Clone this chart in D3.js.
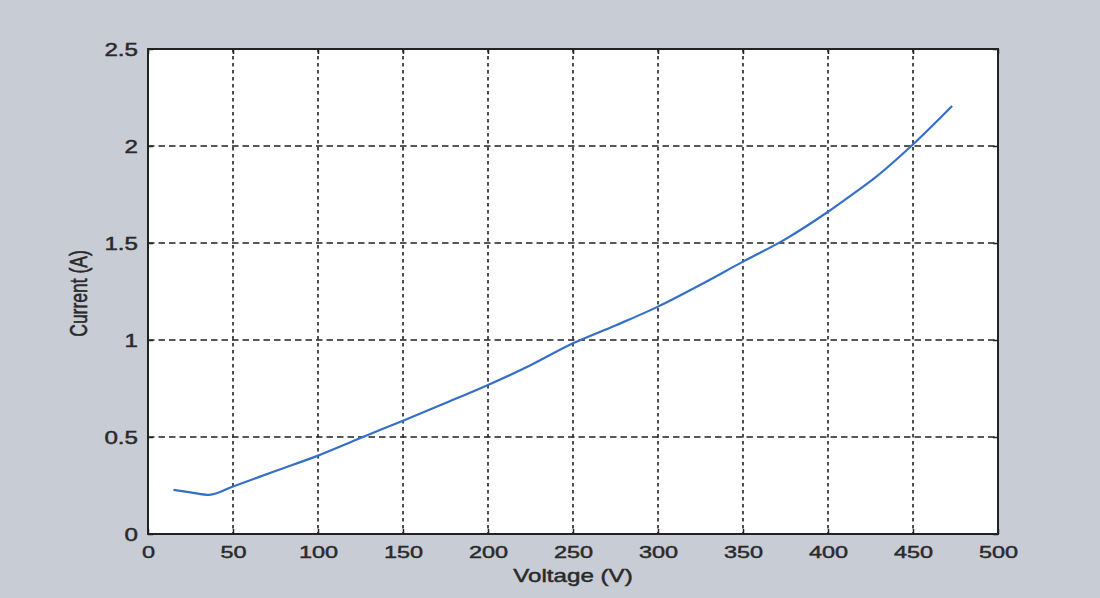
<!DOCTYPE html>
<html>
<head>
<meta charset="utf-8">
<script src="https://cdn.jsdelivr.net/npm/d3@7"></script>
<style>
  html, body { margin: 0; padding: 0; background: #c8ccd5; }
  svg { display: block; }
  text { font-family: "Liberation Sans", Arial, sans-serif; fill: #2a2a2a; stroke: #2a2a2a; stroke-width: 0.45px; }
</style>
</head>
<body>
<svg id="chart" width="1100" height="598"></svg>
<script>
// Measured I-V characteristic
const voltage = [15, 25, 36, 50, 75, 100, 125, 150, 175, 200, 225, 250, 275, 300, 325, 350, 375, 400, 413, 426, 449, 473];
const current = [0.227, 0.215, 0.202, 0.245, 0.325, 0.404, 0.495, 0.584, 0.675, 0.768, 0.870, 0.983, 1.075, 1.172, 1.285, 1.404, 1.520, 1.661, 1.742, 1.825, 2.000, 2.206];

const xTicks = [0, 50, 100, 150, 200, 250, 300, 350, 400, 450, 500];
const yTicks = [0, 0.5, 1, 1.5, 2, 2.5];
const xLabel = "Voltage (V)";
const yLabel = "Current (A)";

const svg = d3.select("#chart");
const W = 1100, H = 598;
const plot = { left: 148, right: 998, top: 49, bottom: 534 };
const stretch = 1.38; // horizontal text stretch of the figure

svg.append("rect").attr("width", W).attr("height", H).attr("fill", "#c8ccd5");

const x = d3.scaleLinear().domain([0, 500]).range([plot.left, plot.right]);
const y = d3.scaleLinear().domain([0, 2.5]).range([plot.bottom, plot.top]);

// plot background
svg.append("rect")
  .attr("x", plot.left).attr("y", plot.top)
  .attr("width", plot.right - plot.left).attr("height", plot.bottom - plot.top)
  .attr("fill", "#ffffff");

// dashed grid
const grid = svg.append("g");
grid.selectAll("line.v").data(xTicks.slice(1, -1)).join("line")
  .attr("class", "v")
  .attr("x1", d => x(d)).attr("x2", d => x(d))
  .attr("y1", plot.top).attr("y2", plot.bottom)
  .attr("stroke", "#222").attr("stroke-width", 1.6)
  .attr("stroke-dasharray", "3.5,3.5");
grid.selectAll("line.h").data(yTicks.slice(1, -1)).join("line")
  .attr("class", "h")
  .attr("x1", plot.left).attr("x2", plot.right)
  .attr("y1", d => y(d)).attr("y2", d => y(d))
  .attr("stroke", "#222").attr("stroke-width", 1.6)
  .attr("stroke-dasharray", "6.5,4");

// axes with inward ticks and labels
const xAxis = d3.axisBottom(x).tickValues(xTicks).tickSize(-5).tickPadding(0).tickFormat(d3.format("d"));
const xAxisTop = d3.axisTop(x).tickValues(xTicks).tickSize(-5).tickFormat("");
const yAxis = d3.axisLeft(y).tickValues(yTicks).tickSize(-5).tickPadding(0).tickFormat(d => String(d));
const yAxisRight = d3.axisRight(y).tickValues(yTicks).tickSize(-5).tickFormat("");

function styleAxis(g) {
  g.select(".domain").remove();
  g.selectAll(".tick line").attr("stroke", "#222").attr("stroke-width", 1.5);
}

const gx = svg.append("g").attr("transform", `translate(0,${plot.bottom})`).call(xAxis).call(styleAxis);
gx.selectAll(".tick text")
  .attr("y", 0).attr("dy", 0)
  .attr("transform", `translate(0,24) scale(${stretch},1)`)
  .attr("font-size", 17).attr("fill", "#2a2a2a")
  .attr("text-anchor", "middle")
  .attr("font-family", "Liberation Sans, Arial, sans-serif");

svg.append("g").attr("transform", `translate(0,${plot.top})`).call(xAxisTop).call(styleAxis);

const gy = svg.append("g").attr("transform", `translate(${plot.left},0)`).call(yAxis).call(styleAxis);
gy.selectAll(".tick text")
  .attr("x", 0).attr("dy", 0)
  .attr("transform", `translate(-10,6) scale(${stretch},1)`)
  .attr("font-size", 17.5).attr("fill", "#2a2a2a")
  .attr("text-anchor", "end")
  .attr("font-family", "Liberation Sans, Arial, sans-serif");

svg.append("g").attr("transform", `translate(${plot.right},0)`).call(yAxisRight).call(styleAxis);

// axis box
svg.append("rect")
  .attr("x", plot.left).attr("y", plot.top)
  .attr("width", plot.right - plot.left).attr("height", plot.bottom - plot.top)
  .attr("fill", "none").attr("stroke", "#222").attr("stroke-width", 2);

// curve
const pts = voltage.map((v, i) => [v, current[i]]);
svg.append("path")
  .datum(pts)
  .attr("fill", "none")
  .attr("stroke", "#3470c8")
  .attr("stroke-width", 2.2)
  .attr("stroke-linejoin", "round")
  .attr("d", d3.line().x(d => x(d[0])).y(d => y(d[1])).curve(d3.curveMonotoneX));

// axis titles
svg.append("text")
  .attr("transform", `translate(${(plot.left + plot.right) / 2},582) scale(${stretch},1)`)
  .attr("text-anchor", "middle")
  .attr("font-size", 17.5)
  .text(xLabel);

svg.append("text")
  .attr("transform", `translate(87,${(plot.top + plot.bottom) / 2 + 2}) scale(${stretch},1) rotate(-90)`)
  .attr("text-anchor", "middle")
  .attr("font-size", 17.5)
  .text(yLabel);
</script>
</body>
</html>
